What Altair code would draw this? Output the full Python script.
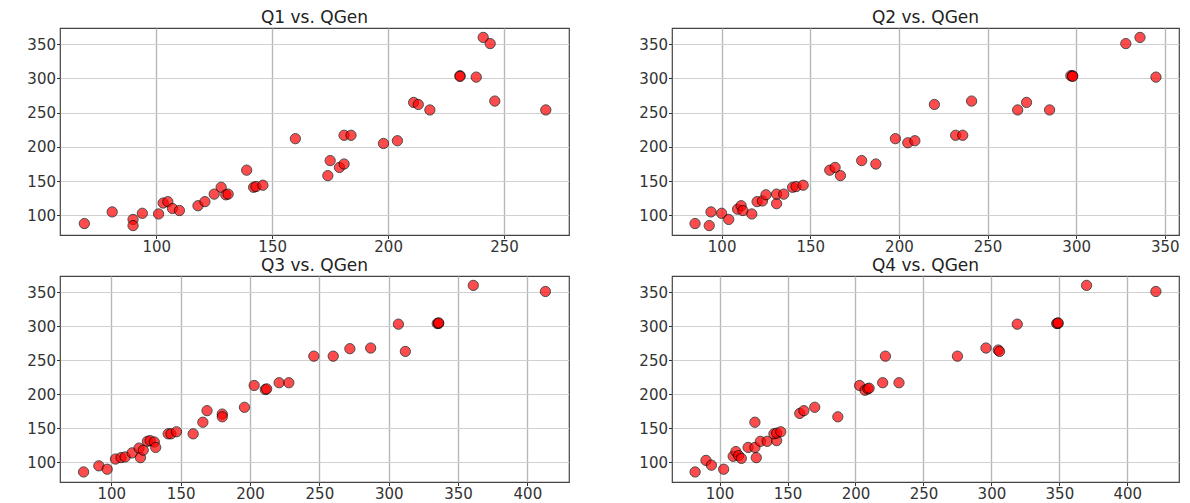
import altair as alt
import pandas as pd

# QGen values are on y; Qn values on x
q1_x = [69, 81, 90, 90, 94, 101, 103, 105, 107, 110, 118, 121, 125, 128, 130, 131, 139, 142, 143, 146,
        160, 174, 175, 179, 181, 181, 184, 198, 204, 211, 213, 218, 231, 231, 238, 241, 244, 246, 268]
q1_y = [88, 105, 94, 85, 103, 102, 118, 120, 110, 107, 114, 120, 131, 141, 130, 131, 166, 141, 142, 144,
        212, 158, 180, 170, 175, 217, 217, 205, 209, 265, 262, 254, 304, 303, 302, 360, 351, 267, 254]

q2_x = [85, 93, 94, 100, 104, 109, 111, 112, 117, 120, 123, 125, 131, 131, 135, 140, 142, 146, 161, 164,
        167, 179, 187, 198, 205, 209, 220, 232, 236, 241, 267, 272, 285, 297, 298, 298, 328, 336, 345]
q2_y = [88, 85, 105, 103, 94, 109, 114, 107, 102, 120, 121, 130, 117, 131, 131, 141, 142, 144, 166, 170,
        158, 180, 175, 212, 206, 209, 262, 217, 217, 267, 254, 265, 254, 304, 304, 303, 351, 360, 302]

q3_x = [80, 91, 97, 103, 107, 110, 115, 120, 121, 123, 126, 128, 131, 132, 141, 143, 147, 159, 166, 169,
        180, 180, 196, 203, 211, 212, 221, 228, 246, 260, 272, 287, 307, 312, 335, 336, 336, 361, 413]
q3_y = [86, 95, 90, 105, 107, 108, 114, 121, 107, 118, 131, 132, 130, 122, 142, 142, 145, 142, 159, 176,
        171, 167, 181, 213, 207, 208, 217, 217, 256, 256, 267, 268, 303, 263, 304, 304, 305, 360, 351]

q4_x = [82, 90, 94, 103, 110, 112, 114, 116, 121, 126, 126, 127, 130, 135, 142, 140, 142, 145, 159, 162,
        170, 187, 203, 207, 209, 210, 220, 222, 232, 275, 296, 305, 306, 319, 348, 349, 349, 370, 421]
q4_y = [86, 103, 96, 90, 109, 116, 110, 106, 122, 122, 159, 107, 131, 131, 132, 142, 143, 145, 172, 176,
        181, 167, 213, 206, 208, 209, 217, 256, 217, 256, 268, 265, 263, 303, 304, 304, 305, 360, 351]

titles = ["Q1 vs. QGen", "Q2 vs. QGen", "Q3 vs. QGen", "Q4 vs. QGen"]
x_domains = [[58.5, 278], [72, 358], [63, 430], [65, 438]]
x_ticks = [[100, 150, 200, 250], [100, 150, 200, 250, 300, 350],
           [100, 150, 200, 250, 300, 350, 400], [100, 150, 200, 250, 300, 350, 400]]
y_domain = [71.25, 373.75]
y_ticks = [100, 150, 200, 250, 300, 350]

series = [(q1_x, q1_y), (q2_x, q2_y), (q3_x, q3_y), (q4_x, q4_y)]
widths = [509, 507, 509, 507]
heights = [207, 207, 206, 206]


def panel(i):
    xs, ys = series[i]
    df = pd.DataFrame({"x": xs, "y": ys})
    return alt.Chart(df).mark_circle(
        size=105, color="red", opacity=0.7, stroke="black", strokeWidth=1
    ).encode(
        x=alt.X("x:Q", title=None,
                scale=alt.Scale(domain=x_domains[i], nice=False, zero=False),
                axis=alt.Axis(values=x_ticks[i], gridColor="#b8b8b8", gridWidth=1.4)),
        y=alt.Y("y:Q", title=None,
                scale=alt.Scale(domain=y_domain, nice=False, zero=False),
                axis=alt.Axis(values=y_ticks, gridColor="#d0d0d0", gridWidth=1)),
    ).properties(
        width=widths[i], height=heights[i],
        title=alt.TitleParams(titles[i], fontSize=17, font="DejaVu Sans",
                              fontWeight="normal", color="#222", offset=1)
    )


chart = alt.concat(
    panel(0), panel(1), panel(2), panel(3),
    columns=2, spacing={"row": 41, "column": 103}, bounds="flush"
).properties(
    padding={"left": 26, "top": 8, "right": 5, "bottom": 0},
    background="white",
).configure_view(
    stroke="#444", strokeWidth=1.2
).configure_axis(
    domain=False,
    grid=True,
    labelFont="DejaVu Sans",
    labelFontSize=15,
    labelColor="#333",
    tickColor="#333",
    tickSize=3.5,
    labelPadding=1,
)

chart.save("out.html", embed_options={"renderer": "svg", "actions": False})
